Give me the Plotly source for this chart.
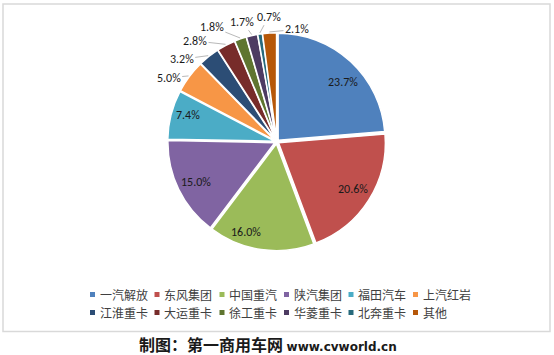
import math
import plotly.graph_objects as go

categories = ["一汽解放", "东风集团", "中国重汽", "陕汽集团", "福田汽车", "上汽红岩",
              "江淮重卡", "大运重卡", "徐工重卡", "华菱重卡", "北奔重卡", "其他"]
shares = [23.7, 20.6, 16.0, 15.0, 7.4, 5.0, 3.2, 2.8, 1.8, 1.7, 0.7, 2.1]
colors = ["#4F81BD", "#C0504D", "#9BBB59", "#8064A2", "#4BACC6", "#F79646",
          "#2C4D75", "#772C2A", "#5F7530", "#4D3B62", "#276A7C", "#B65708"]
caption_cn = "制图：第一商用车网"
caption_url = "www.cvworld.cn"

# label placement (style): radial distance in px and angular nudge in degrees
label_r = [89, 90, 95, 90, 93, 125.5, 125.8, 129.7, 132, 124.8, 125.3, 114.2]
label_dtheta = [5.3, -0.4, 10.5, -1.0, 2.2, -6.1, -10.5, -11.3, -10.0, -2.8, 5.1, 14.0]
outside = [False] * 5 + [True] * 7

W, H = 554, 355
FONT = "Calibri, Carlito, Liberation Sans, Noto Sans CJK SC, sans-serif"
CX, CY, R_OUT, PULL = 276.7, 141.7, 109.0, 0.02

fig = go.Figure(go.Pie(
    labels=categories, values=shares, sort=False, direction="clockwise", rotation=0,
    marker=dict(colors=colors, line=dict(color="white", width=1.5)),
    pull=PULL, textinfo="none",
    domain=dict(x=[(CX - R_OUT) / W, (CX + R_OUT) / W],
                y=[(H - CY - R_OUT) / H, (H - CY + R_OUT) / H]),
    showlegend=False, hoverinfo="label+percent",
))

total = sum(shares)
annotations = []
cum = 0.0
for i, v in enumerate(shares):
    mid = (cum + v / 2) / total * 360.0
    cum += v
    th = math.radians(mid + label_dtheta[i])
    lx = CX + label_r[i] * math.sin(th)
    ly = CY - label_r[i] * math.cos(th)
    txt = f"{v:.1f}%"
    f = dict(family=FONT, size=12, color="#1a1a1a")
    if not outside[i]:
        annotations.append(dict(text=txt, xref="paper", yref="paper", x=lx / W, y=(H - ly) / H,
                                xanchor="center", yanchor="middle", showarrow=False, font=f))
    else:
        tm = math.radians(mid)
        axp = CX + (R_OUT + 1) * math.sin(tm)
        ayp = CY - (R_OUT + 1) * math.cos(tm)
        annotations.append(dict(text=txt, xref="paper", yref="paper", x=axp / W, y=(H - ayp) / H,
                                ax=lx - axp, ay=ly - ayp, showarrow=True, arrowhead=0,
                                arrowwidth=0.8, arrowcolor="#A6A6A6", standoff=0, startstandoff=0,
                                font=f))

shapes = [dict(type="rect", xref="paper", yref="paper",
               x0=3 / W, x1=550 / W, y0=(H - 331.5) / H, y1=(H - 4) / H,
               line=dict(color="#D9D9D9", width=1.5), fillcolor="rgba(0,0,0,0)")]
x_starts = [92.5, 157, 222, 286.5, 351, 415.5]
row_y = [294.5, 312.5]
for i, (cat, col) in enumerate(zip(categories, colors)):
    r, c = divmod(i, 6)
    x = x_starts[c]
    y = row_y[r]
    shapes.append(dict(type="rect", xref="paper", yref="paper",
                       x0=(x - 2.5) / W, x1=(x + 2.5) / W,
                       y0=(H - y - 2.5) / H, y1=(H - y + 2.5) / H,
                       line=dict(width=0), fillcolor=col))
    annotations.append(dict(text=cat, xref="paper", yref="paper", x=(x + 5) / W, y=(H - y) / H,
                            xanchor="left", yanchor="middle", showarrow=False,
                            font=dict(family="Noto Sans CJK SC, sans-serif", size=12, color="#404040")))

annotations.append(dict(
    text=f"<b>{caption_cn}</b> <b><span style='font-family:DejaVu Sans; font-size:12px'>{caption_url}</span></b>",
    xref="paper", yref="paper", x=268 / W, y=(H - 343.5) / H, xanchor="center", yanchor="middle",
    showarrow=False, borderpad=0,
    font=dict(family="Noto Sans CJK SC, sans-serif", size=16, color="#1a1a1a")))

fig.update_layout(width=W, height=H, margin=dict(l=0, r=0, t=0, b=0),
                  paper_bgcolor="white", plot_bgcolor="white",
                  shapes=shapes, annotations=annotations)
fig.write_html("out.html")
